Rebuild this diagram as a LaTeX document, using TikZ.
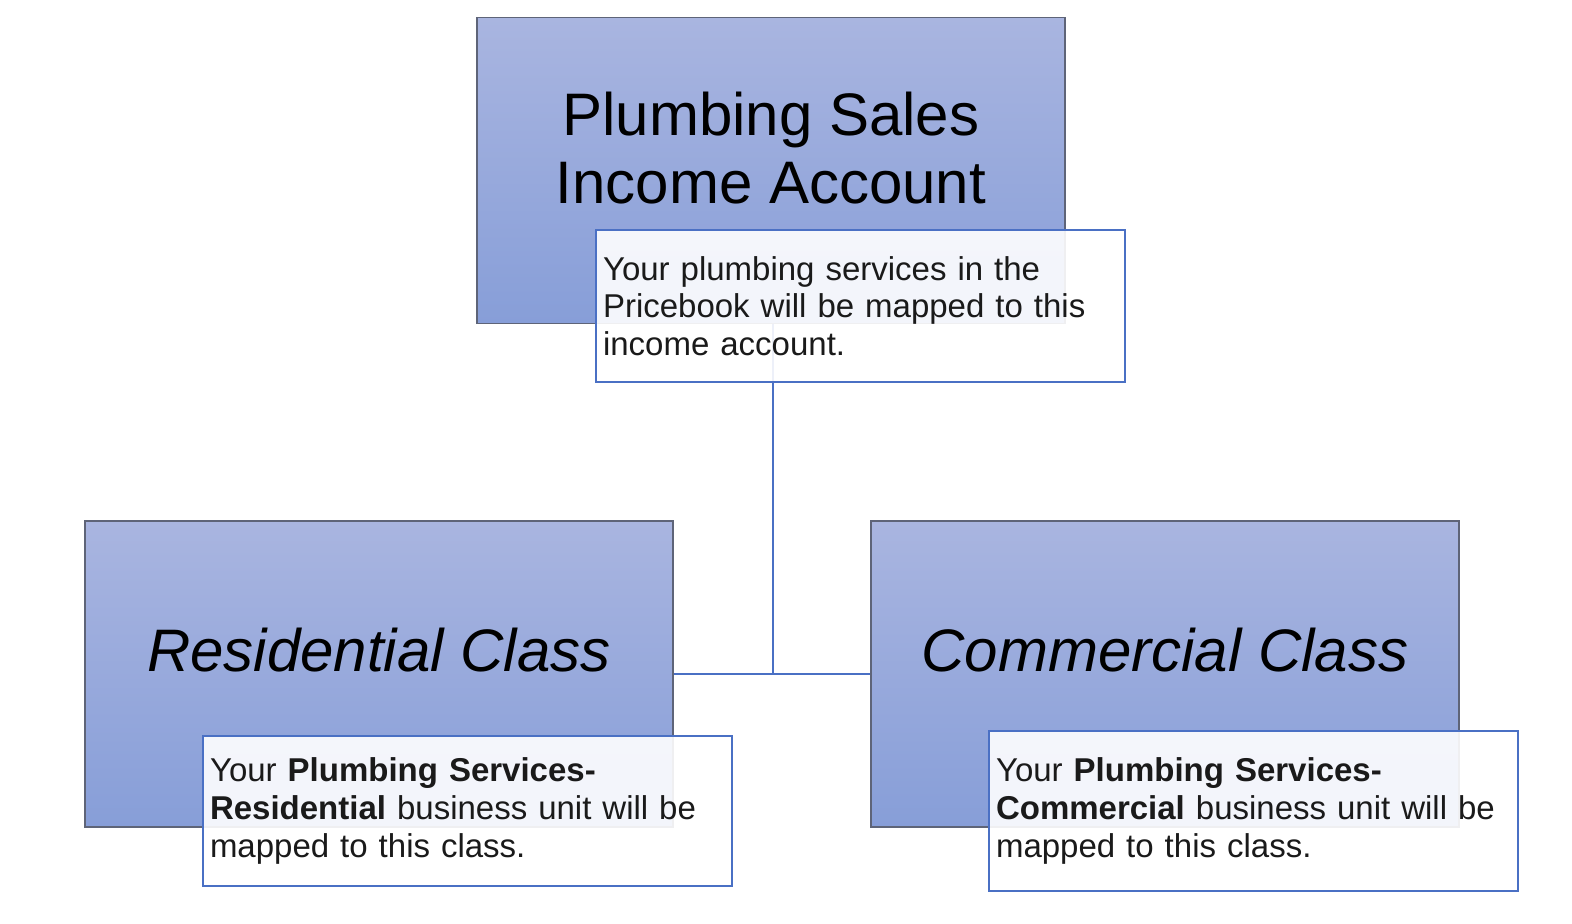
\documentclass[tikz,border=0pt]{standalone}
\usepackage{fontspec}
\setmainfont{Liberation Sans}
\newfontfamily\notefont[WordSpace=1.9]{Liberation Sans}
\usepackage{xcolor}
\usetikzlibrary{positioning,calc}
\definecolor{pbTop}{HTML}{A9B5E0}
\definecolor{pbBottom}{HTML}{879ED8}
\definecolor{pbEdge}{HTML}{5E6478}
\definecolor{pbLine}{HTML}{4A70C4}
\definecolor{pbText}{HTML}{1A1A1A}

\begin{document}
\begin{tikzpicture}[
  x=0.5pt,y=-0.5pt,
  classbox/.style={draw=pbEdge,line width=0.9pt,top color=pbTop,bottom color=pbBottom,
    minimum width=294pt,minimum height=153pt,inner sep=0pt},
  title/.style={align=center,text=black,font=\fontsize{30}{34}\selectfont},
  note/.style={draw=pbLine,line width=0.9pt,fill=white,fill opacity=0.9,text opacity=1,
    minimum width=264.5pt,text width=257.5pt,inner xsep=3.5pt,align=left,
    text=pbText,font=\notefont\fontsize{16.5}{18.8}\selectfont},
  link/.style={draw=pbLine,line width=1pt}
]
\useasboundingbox (0,0) rectangle (1572,924);
% class boxes
\node[classbox] (income) at (771,170.5) {};
\node[classbox] (resi) at (379,674) {};
\node[classbox] (comm) at (1165,674) {};
\node[title] (incometitle) at ([yshift=11pt]income.center) {Plumbing Sales\\Income Account};
\node[title,font=\fontsize{30}{34}\selectfont\itshape] (resititle) at ([yshift=12pt]resi.center) {Residential Class};
\node[title,font=\fontsize{30}{34}\selectfont\itshape] (commtitle) at ([yshift=12pt]comm.center) {Commercial Class};
% connectors
\coordinate (fork) at ([xshift=1pt]income.south |- resi.east);
\draw[link] ([xshift=1pt]income.south) -- (fork);
\draw[link] (resi.east) -- (comm.west);
% notes
\node[note,minimum height=76pt] (incomenote) at (860.5,306)
  {Your plumbing services in the\\Pricebook will be mapped to this\\income account.};
\node[note,minimum height=75pt] (resinote) at (467.5,811)
  {Your \textbf{Plumbing Services-}\\\textbf{Residential} business unit will be\\mapped to this class.};
\node[note,minimum height=80pt] (commnote) at (1253.5,811)
  {Your \textbf{Plumbing Services-}\\\textbf{Commercial} business unit will be\\mapped to this class.};
\end{tikzpicture}
\end{document}
